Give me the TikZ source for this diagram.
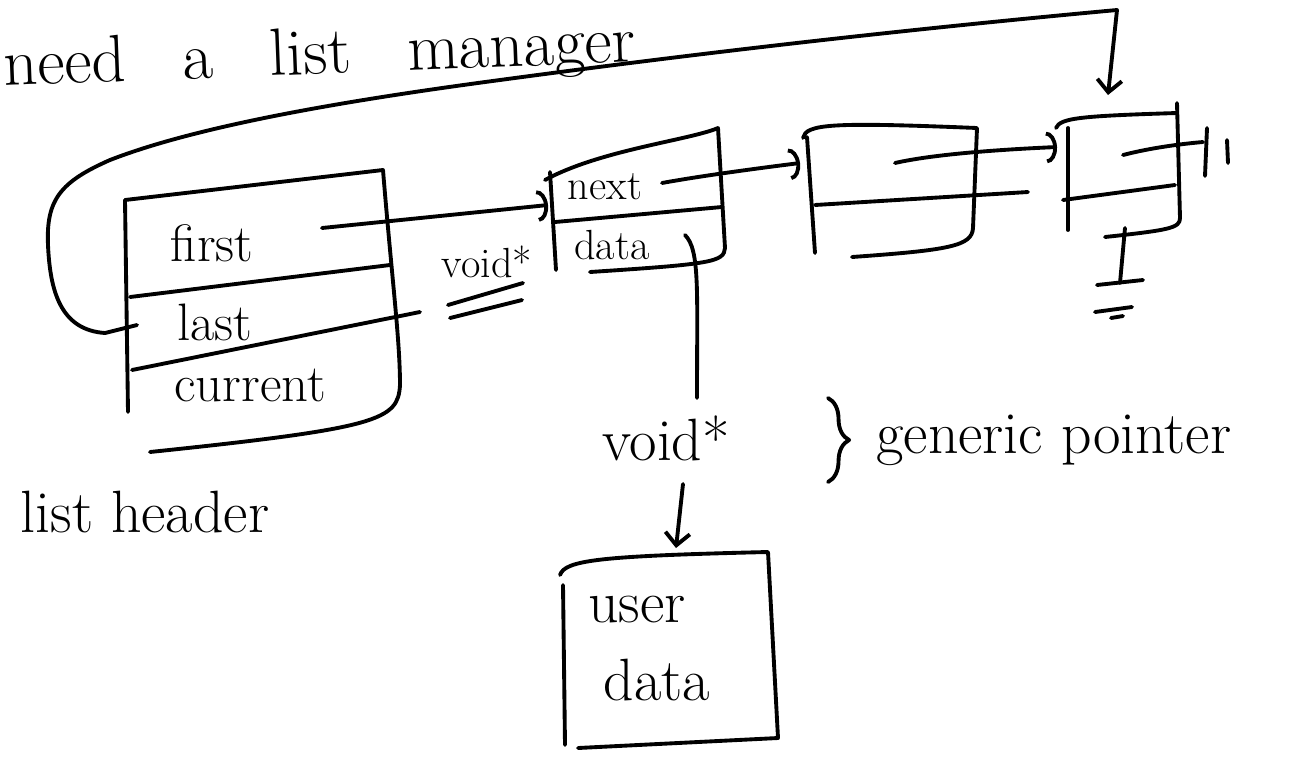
\documentclass[tikz,border=0pt]{standalone}
\usetikzlibrary{arrows.meta,decorations.pathreplacing}

\tikzset{
  pen/.style={line width=2.2pt, line cap=round, line join=round},
  ptr/.style={pen, -{Arc Barb[length=6pt, width=18pt]}},
  downptr/.style={pen, -{Straight Barb[length=7pt, width=14pt]}},
  hand/.style={font=\fontsize{30}{34}\selectfont, inner sep=0pt},
  big/.style={font=\fontsize{34}{38}\selectfont, inner sep=0pt},
  field/.style={font=\fontsize{24}{28}\selectfont, inner sep=0pt},
}

\begin{document}
\begin{tikzpicture}[x=0.02cm, y=-0.02cm]
\useasboundingbox (0,0) rectangle (1295,762);

\node[font=\fontsize{38}{42}\selectfont, inner sep=0pt, anchor=base west, rotate=2.2] (title) at (4,86) {\spaceskip=.85em need a list manager};

% list header
\draw[pen] (125,200) -- (128,412);
\draw[pen] (125,200) -- (383,170)
  .. controls (392,280) and (400,340) .. (400,385)
  .. controls (398,420) and (380,428) .. (150,452);
\draw[pen] (130,297) -- (390,265);
\draw[pen] (132,370) -- (420,312);
\node[hand] (first) at (212,243) {first};
\node[hand] (last) at (215,322) {last};
\node[hand] (current) at (250,385) {current};
\node[big] (header) at (145,512) {list header};

\coordinate (firstptr) at (322,228);
\coordinate (lastptr) at (137,325);
\coordinate (lastin) at (1108,95);

% first node
\draw[pen] (550,172) -- (556,270);
\draw[pen] (545,180) .. controls (600,150) and (690,140) .. (718,128)
  -- (725,248) .. controls (724,262) and (712,264) .. (590,272);
\draw[pen] (555,222) -- (722,207);
\node[field] (next) at (605,187) {next};
\node[field] (data) at (612,245) {data};
\node[field] (voidlbl) at (487,262) {void*};
\draw[pen] (448,305) -- (523,283);
\draw[pen] (450,318) -- (522,300);

\coordinate (n1in) at (548,205);
\coordinate (n1next) at (662,183);
\coordinate (n1data) at (685,235);

% second node
\draw[pen] (807,137) -- (815,253);
\draw[pen] (803,138) .. controls (806,124) and (830,122) .. (977,128)
  -- (973,228) .. controls (972,246) and (950,250) .. (852,257);
\draw[pen] (815,205) -- (1028,192);
\coordinate (n2in) at (800,163);
\coordinate (n2next) at (895,163);

% last node
\draw[pen] (1068,128) -- (1068,230);
\draw[pen] (1056,128) .. controls (1060,118) and (1080,116) .. (1177,113);
\draw[pen] (1177,103) -- (1180,218) .. controls (1180,228) and (1170,230) .. (1105,237);
\draw[pen] (1063,200) -- (1175,185);
\coordinate (n3in) at (1057,147);
\coordinate (n3next) at (1123,155);
\coordinate (n3end) at (1203,142);
\coordinate (gnd) at (1125,228);

% pointers
\draw[ptr] (firstptr) -- (n1in);
\draw[ptr] (n1next) .. controls (700,176) and (760,168) .. (n2in);
\draw[ptr] (n2next) .. controls (930,155) and (990,150) .. (n3in);
\draw[pen] (n3next) .. controls (1150,148) and (1180,144) .. (n3end);
\draw[pen] (1207,128) -- (1205,176);
\draw[pen] (1227,140) -- (1228,163);
\draw[pen] (gnd) -- (1120,283);
\draw[pen] (1097,285) -- (1143,280);
\draw[pen] (1095,312) -- (1132,307);
\draw[pen] (1111,318) -- (1123,316);

% loop from last to the last node
\draw[downptr] (lastptr) -- (105,333)
  .. controls (60,330) and (50,290) .. (48,245)
  .. controls (46,200) and (60,182) .. (110,160)
  .. controls (200,125) and (350,100) .. (500,80)
  .. controls (700,53) and (900,30) .. (1117,10) -- (lastin);

% data pointer
\node[big] (voidp) at (666,438) {void*};
\coordinate (vdtop) at (697,398);
\draw[pen] (n1data) .. controls (700,250) and (697,290) .. (vdtop);
\draw[pen, decorate, decoration={brace, amplitude=12pt}] (828,398) -- (828,482);
\node[big, anchor=west] (generic) at (876,440) {generic pointer};

% user data
\coordinate (voidout) at (683,484);
\coordinate (udtop) at (676,548);
\draw[downptr] (voidout) -- (udtop);
\draw[pen] (560,575) .. controls (565,560) and (600,556) .. (768,552)
  -- (778,738) -- (578,748);
\draw[pen] (563,585) -- (565,745);
\node[big] (user) at (637,610) {user};
\node[big] (udata) at (657,680) {data};
\end{tikzpicture}
\end{document}
